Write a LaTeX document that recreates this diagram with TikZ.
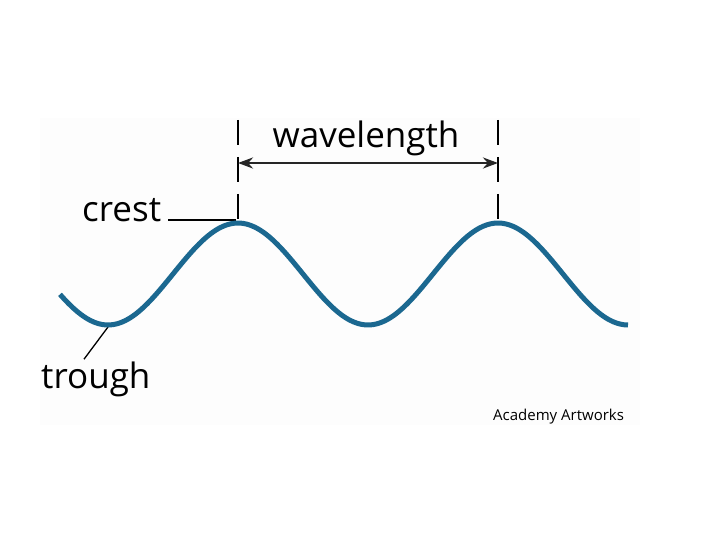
\documentclass[tikz,border=0pt]{standalone}
\usepackage{fontspec}
\setmainfont{Open Sans}
\usetikzlibrary{arrows.meta,positioning}
\definecolor{wave}{HTML}{1B6890}
\definecolor{ink}{HTML}{262626}
\definecolor{panel}{HTML}{FDFDFD}

\begin{document}
\begin{tikzpicture}[x=1pt,y=-1pt,
  lbl/.style={font=\fontsize{35}{40}\selectfont,inner sep=0pt},
  guide/.style={black,line width=1.5pt,dash pattern=on 25pt off 12pt},
  leader/.style={black,line width=1.3pt}]
  \useasboundingbox (0,0) rectangle (720,540);
  \fill[panel] (40,118) rectangle (640,425);

  % crest and trough points
  \coordinate (crestA) at (238,222);
  \coordinate (crestB) at (498,222);
  \coordinate (crestTip) at (236,220);
  \coordinate (troughTip) at (108,327);

  % labels
  \node[lbl,anchor=base] (wavelength) at (366,148) {wavelength};
  \node[lbl,anchor=base west] (crest) at (82,222) {crest};
  \node[lbl,anchor=base west] (trough) at (41,388) {trough};
  \node[font=\fontsize{15}{18}\selectfont,inner sep=0pt,anchor=base west] (credit) at (493,420) {Academy Artworks};

  % dashed guides up from the crests
  \foreach \c in {crestA,crestB} {
    \draw[guide] (\c |- 0,120) -- (\c);
  }

  % wavelength arrow
  \draw[ink,line width=2.5pt,{Stealth[length=15pt,width=11pt]}-{Stealth[length=15pt,width=11pt]}]
    (crestA |- 0,163) -- (crestB |- 0,163);

  % leaders to the labels
  \draw[leader] ([xshift=7pt,yshift=2pt]crest.base east) -- (crestTip);
  \draw[leader] ([xshift=43pt,yshift=2pt]trough.north west) -- (troughTip);

  % the wave
  \draw[wave,line width=5pt,domain=60:628,samples=150,smooth]
    plot (\x,{274-51*cos(1.3846*(\x-238))});
\end{tikzpicture}
\end{document}
